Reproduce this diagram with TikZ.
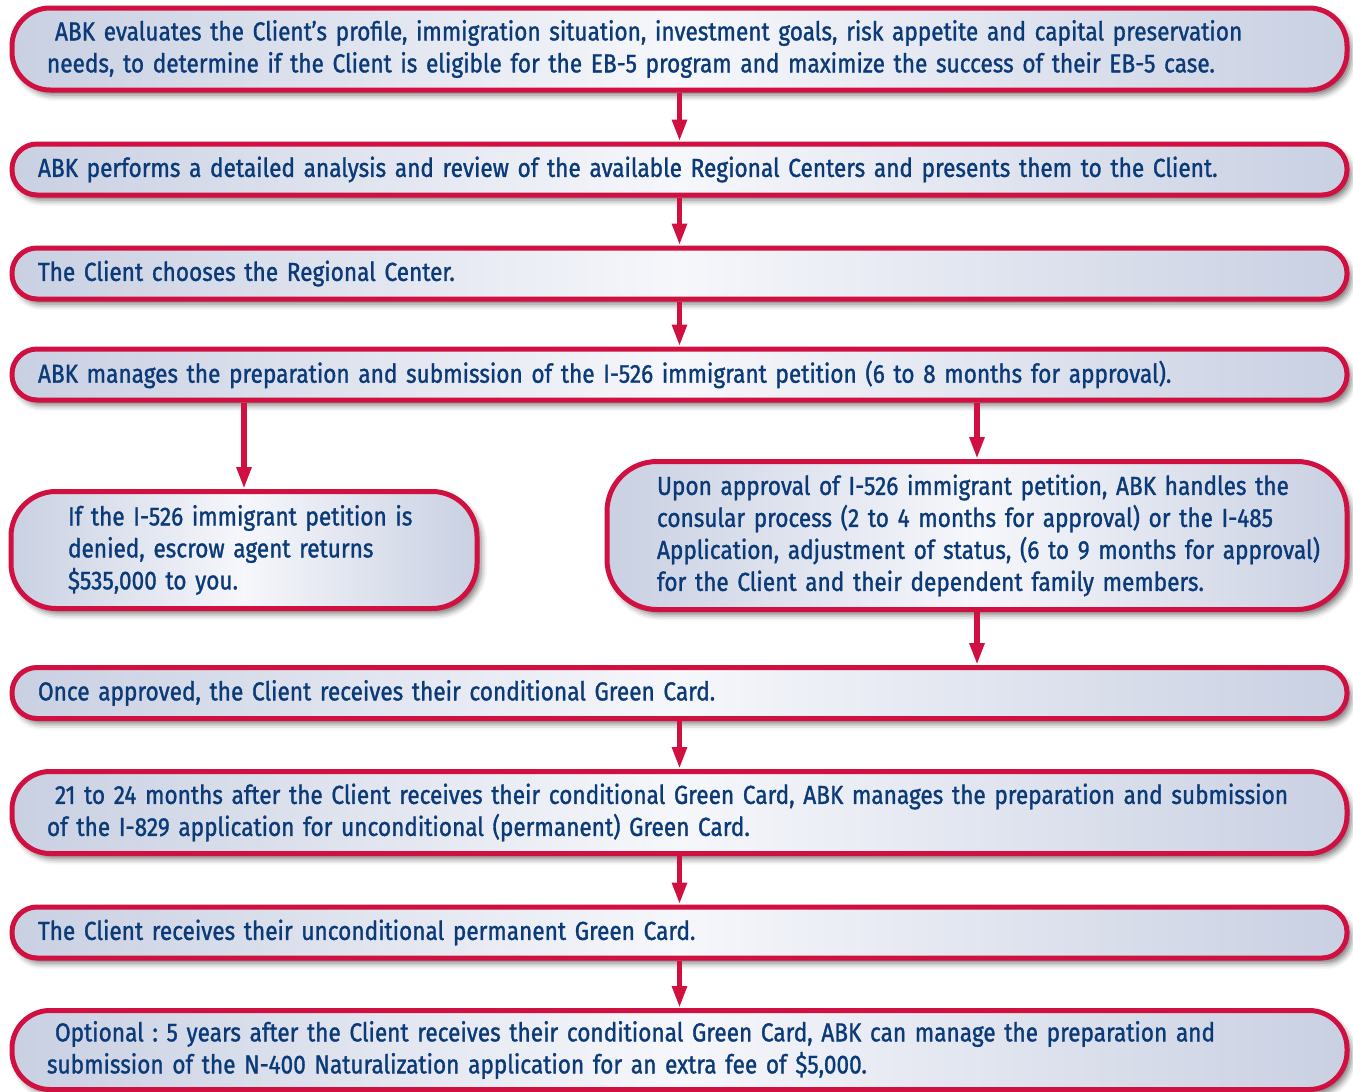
\documentclass[tikz,border=0pt]{standalone}
\usepackage{fontspec}
\setmainfont{Fira Sans}[FakeStretch=0.87,FakeBold=1.2]
\usetikzlibrary{arrows.meta,shadows.blur}
\definecolor{bordercol}{RGB}{208,16,64}
\definecolor{edgecol}{RGB}{201,208,226}
\definecolor{midcol}{RGB}{246,247,251}
\definecolor{textcol}{RGB}{10,58,120}
\tikzset{
  flowbox/.style={draw=bordercol, line width=5pt, left color=edgecol, right color=edgecol, middle color=midcol,
    text=textcol, align=left, font=\fontsize{26}{32}\selectfont, inner ysep=0pt,
    execute at begin node={\frenchspacing\hyphenpenalty=10000\exhyphenpenalty=10000},
    blur shadow={shadow xshift=4pt, shadow yshift=-5pt, shadow blur radius=6pt, shadow opacity=55}},
  flowarrow/.style={draw=bordercol, line width=5.5pt, -{Triangle[width=14pt,length=22pt]}}
}
\begin{document}
\begin{tikzpicture}[x=1pt,y=-1pt]
\useasboundingbox (0,0) rectangle (1353,1092);
% boxes
\node[flowbox, rounded corners=38pt, minimum width=1335pt, minimum height=82pt, inner xsep=35pt, text width=1265pt] (b1) at (679.5,49)
 {\hspace*{8pt}ABK evaluates the Client’s profile, immigration situation, investment goals, risk appetite and capital preservation\\needs, to determine if the Client is eligible for the EB-5 program and maximize the success of their EB-5 case.};
\node[flowbox, rounded corners=25pt, minimum width=1335pt, minimum height=51pt, inner xsep=26pt, text width=1283pt] (b2) at (679.5,169.5)
 {ABK performs a detailed analysis and review of the available Regional Centers and presents them to the Client.};
\node[flowbox, rounded corners=25pt, minimum width=1335pt, minimum height=51pt, inner xsep=26pt, text width=1283pt] (b3) at (679.5,273.5)
 {The Client chooses the Regional Center.};
\node[flowbox, rounded corners=25pt, minimum width=1335pt, minimum height=51pt, inner xsep=26pt, text width=1283pt] (b4) at (679.5,374.5)
 {ABK manages the preparation and submission of the I-526 immigrant petition (6 to 8 months for approval).};
\node[flowbox, rounded corners=45pt, minimum width=466pt, minimum height=117pt, inner xsep=57pt, text width=352pt] (b5) at (244,550)
 {If the I-526 immigrant petition is\\denied, escrow agent returns\\\$535,000 to you.};
\node[flowbox, rounded corners=50pt, minimum width=740pt, minimum height=148pt, inner xsep=50pt, text width=640pt] (b6) at (977,535.5)
 {\mbox{Upon approval of I-526 immigrant petition, ABK handles the}\\\mbox{consular process (2 to 4 months for approval) or the I-485}\\\mbox{Application, adjustment of status, (6 to 9 months for approval)}\\\mbox{for the Client and their dependent family members.}};
\node[flowbox, rounded corners=25pt, minimum width=1335pt, minimum height=51pt, inner xsep=26pt, text width=1283pt] (b7) at (679.5,693)
 {Once approved, the Client receives their conditional Green Card.};
\node[flowbox, rounded corners=38pt, minimum width=1335pt, minimum height=82pt, inner xsep=35pt, text width=1265pt] (b8) at (679.5,812.5)
 {\hspace*{8pt}21 to 24 months after the Client receives their conditional Green Card, ABK manages the preparation and submission\\of the I-829 application for unconditional (permanent) Green Card.};
\node[flowbox, rounded corners=25pt, minimum width=1335pt, minimum height=51pt, inner xsep=26pt, text width=1283pt] (b9) at (679.5,932.5)
 {The Client receives their unconditional permanent Green Card.};
\node[flowbox, rounded corners=38pt, minimum width=1335pt, minimum height=79pt, inner xsep=35pt, text width=1265pt] (b10) at (679.5,1050)
 {\hspace*{8pt}Optional : 5 years after the Client receives their conditional Green Card, ABK can manage the preparation and\\submission of the N-400 Naturalization application for an extra fee of \$5,000.};
% arrows
\draw[flowarrow] (b1.south) -- (b2.north);
\draw[flowarrow] (b2.south) -- (b3.north);
\draw[flowarrow] (b3.south) -- (b4.north);
\draw[flowarrow] (b5.north |- b4.south) -- (b5.north);
\draw[flowarrow] (b6.north |- b4.south) -- (b6.north);
\draw[flowarrow] (b6.south) -- (b6.south |- b7.north);
\draw[flowarrow] (b7.south) -- (b8.north);
\draw[flowarrow] (b8.south) -- (b9.north);
\draw[flowarrow] (b9.south) -- (b10.north);
\end{tikzpicture}
\end{document}
